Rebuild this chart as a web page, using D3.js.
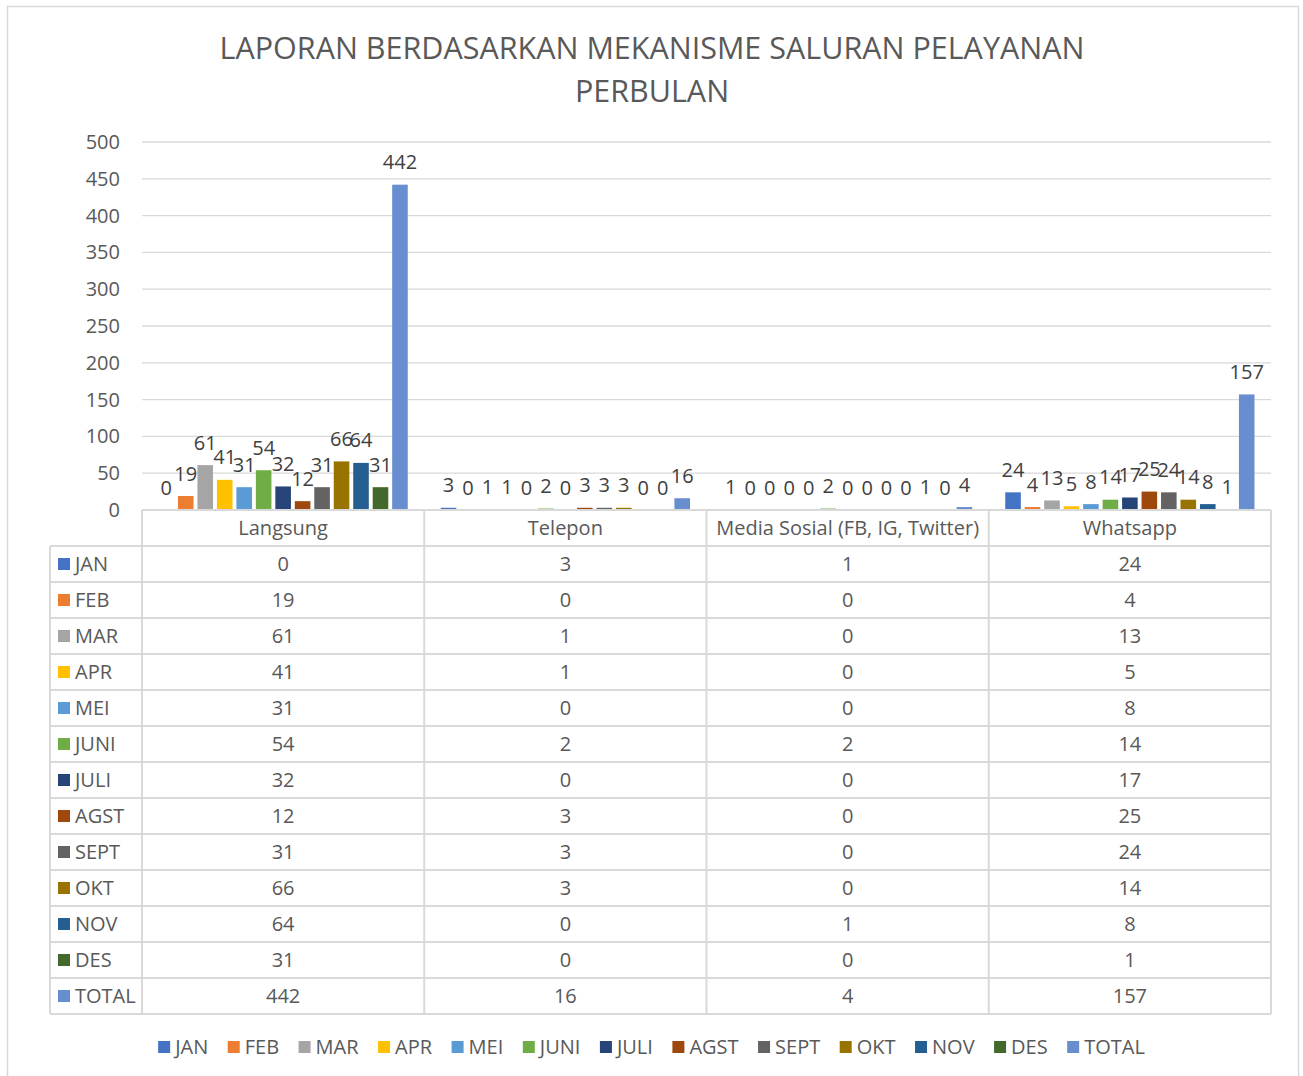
<!DOCTYPE html>
<html>
<head>
<meta charset="utf-8">
<script src="https://cdn.jsdelivr.net/npm/d3@7"></script>
<style>
  html, body { margin: 0; padding: 0; background: #ffffff; }
  svg { display: block; font-family: "Open Sans", "Noto Sans", sans-serif; }
</style>
</head>
<body>
<svg id="chart" width="1303" height="1076"></svg>
<script>
// Channels (x categories)
const categories = ["Langsung", "Telepon", "Media Sosial (FB, IG, Twitter)", "Whatsapp"];

// Series (months + total)
const seriesNames = ["JAN", "FEB", "MAR", "APR", "MEI", "JUNI", "JULI", "AGST", "SEPT", "OKT", "NOV", "DES", "TOTAL"];
const seriesColors = ["#4472C4", "#ED7D31", "#A5A5A5", "#FFC000", "#5B9BD5", "#70AD47",
                      "#264478", "#9E480E", "#636363", "#997300", "#255E91", "#43682B", "#698ED0"];

// Values per series, one per channel
const JAN   = [0, 3, 1, 24];
const FEB   = [19, 0, 0, 4];
const MAR   = [61, 1, 0, 13];
const APR   = [41, 1, 0, 5];
const MEI   = [31, 0, 0, 8];
const JUNI  = [54, 2, 2, 14];
const JULI  = [32, 0, 0, 17];
const AGST  = [12, 3, 0, 25];
const SEPT  = [31, 3, 0, 24];
const OKT   = [66, 3, 0, 14];
const NOV   = [64, 0, 1, 8];
const DES   = [31, 0, 0, 1];
const TOTAL = [442, 16, 4, 157];
const seriesValues = [JAN, FEB, MAR, APR, MEI, JUNI, JULI, AGST, SEPT, OKT, NOV, DES, TOTAL];

const yTicks = [0, 50, 100, 150, 200, 250, 300, 350, 400, 450, 500];
const titleLines = ["LAPORAN BERDASARKAN MEKANISME SALURAN PELAYANAN", "PERBULAN"];

const series = seriesNames.map((name, i) => ({ name, color: seriesColors[i], values: seriesValues[i] }));

const svg = d3.select("#chart");
const W = 1303;

// Layout
const plot = { left: 142, right: 1271, top: 142, bottom: 510 };
const table = { left: 50, rowH: 36 };
const textColor = "#595959";
const gridColor = "#d9d9d9";
const fs = 20;

// Outer chart frame
svg.append("rect")
  .attr("x", 7.5).attr("y", 6.5).attr("width", 1291).attr("height", 1090)
  .attr("fill", "#fff").attr("stroke", gridColor).attr("stroke-width", 1.5);

// Title
svg.append("g").selectAll("text").data(titleLines).join("text")
  .attr("x", 652).attr("y", (d, i) => 59 + i * 43)
  .attr("text-anchor", "middle")
  .attr("font-size", 30.5)
  .attr("fill", textColor)
  .text(d => d);

// Scales
const x0 = d3.scaleBand().domain(categories).range([plot.left, plot.right]).paddingInner(0).paddingOuter(0);
const catPad = 16.5;
const x1 = d3.scaleBand().domain(seriesNames).range([catPad, x0.bandwidth() - catPad]).paddingInner(0.2).paddingOuter(0);
const y = d3.scaleLinear().domain([0, 500]).range([plot.bottom, plot.top]);

// Gridlines
svg.append("g").selectAll("line").data(yTicks.filter(t => t > 0)).join("line")
  .attr("x1", plot.left).attr("x2", plot.right)
  .attr("y1", d => y(d)).attr("y2", d => y(d))
  .attr("stroke", gridColor).attr("stroke-width", 1.3);

// Y axis labels
const yAxis = d3.axisLeft(y).tickValues(yTicks).tickSize(0).tickPadding(22);
const yg = svg.append("g").attr("transform", `translate(${plot.left},0)`).call(yAxis);
yg.select(".domain").remove();
yg.selectAll("text").attr("font-size", fs).attr("fill", textColor).attr("font-family", "Open Sans");

// Bars
const groups = svg.append("g").selectAll("g").data(series).join("g").attr("fill", d => d.color);
groups.selectAll("rect")
  .data(s => s.values.map((v, ci) => ({ name: s.name, cat: categories[ci], v })))
  .join("rect")
  .attr("x", d => x0(d.cat) + x1(d.name))
  .attr("y", d => y(d.v))
  .attr("width", x1.bandwidth())
  .attr("height", d => y(0) - y(d.v));

// Data labels
const labelG = svg.append("g").attr("font-size", fs).attr("fill", "#404040").attr("text-anchor", "middle");
series.forEach(s => {
  s.values.forEach((v, ci) => {
    labelG.append("text")
      .attr("x", x0(categories[ci]) + x1(s.name) + x1.bandwidth() / 2)
      .attr("y", y(v) - 15.5)
      .text(v);
  });
});

// Data table
const tg = svg.append("g");
const rowsTop = plot.bottom + table.rowH;
const tableBottom = rowsTop + series.length * table.rowH;
const lineStyle = sel => sel.attr("stroke", gridColor).attr("stroke-width", 2).attr("fill", "none");

// header row top line
tg.append("line").attr("x1", plot.left).attr("x2", plot.right).attr("y1", plot.bottom).attr("y2", plot.bottom).call(lineStyle);
// row lines
d3.range(series.length + 1).forEach(i => {
  const yy = rowsTop + i * table.rowH;
  tg.append("line").attr("x1", table.left).attr("x2", plot.right).attr("y1", yy).attr("y2", yy).call(lineStyle);
});
// vertical lines at category boundaries
categories.forEach(c => {
  tg.append("line").attr("x1", x0(c)).attr("x2", x0(c)).attr("y1", plot.bottom).attr("y2", tableBottom).call(lineStyle);
});
tg.append("line").attr("x1", plot.right).attr("x2", plot.right).attr("y1", plot.bottom).attr("y2", tableBottom).call(lineStyle);
tg.append("line").attr("x1", table.left).attr("x2", table.left).attr("y1", rowsTop).attr("y2", tableBottom).call(lineStyle);

// header category names
tg.selectAll("text.cat").data(categories).join("text").attr("class", "cat")
  .attr("x", d => x0(d) + x0.bandwidth() / 2)
  .attr("y", plot.bottom + table.rowH / 2 + 7)
  .attr("text-anchor", "middle").attr("font-size", fs).attr("fill", textColor)
  .text(d => d);

// rows
series.forEach((s, i) => {
  const cy = rowsTop + i * table.rowH + table.rowH / 2;
  tg.append("rect").attr("x", 58).attr("y", cy - 6).attr("width", 12).attr("height", 12).attr("fill", s.color);
  tg.append("text").attr("x", 75).attr("y", cy + 7).attr("font-size", fs).attr("fill", textColor).text(s.name);
  s.values.forEach((v, ci) => {
    tg.append("text")
      .attr("x", x0(categories[ci]) + x0.bandwidth() / 2)
      .attr("y", cy + 7)
      .attr("text-anchor", "middle").attr("font-size", fs).attr("fill", textColor)
      .text(v);
  });
});

// Legend
const lg = svg.append("g");
const legendY = 1047;
const items = lg.selectAll("g").data(series).join("g");
items.append("rect").attr("x", 0).attr("y", legendY - 6).attr("width", 12).attr("height", 12).attr("fill", d => d.color);
items.append("text").attr("x", 17).attr("y", legendY + 7).attr("font-size", fs).attr("fill", textColor).text(d => d.name);
const widths = [];
items.each(function () { widths.push(17 + this.querySelector("text").getComputedTextLength()); });
const gap = 19.5;
const totalW = d3.sum(widths) + gap * (widths.length - 1);
let cx = (W - totalW) / 2;
items.each(function (d, i) {
  d3.select(this).attr("transform", `translate(${cx},0)`);
  cx += widths[i] + gap;
});
</script>
</body>
</html>
